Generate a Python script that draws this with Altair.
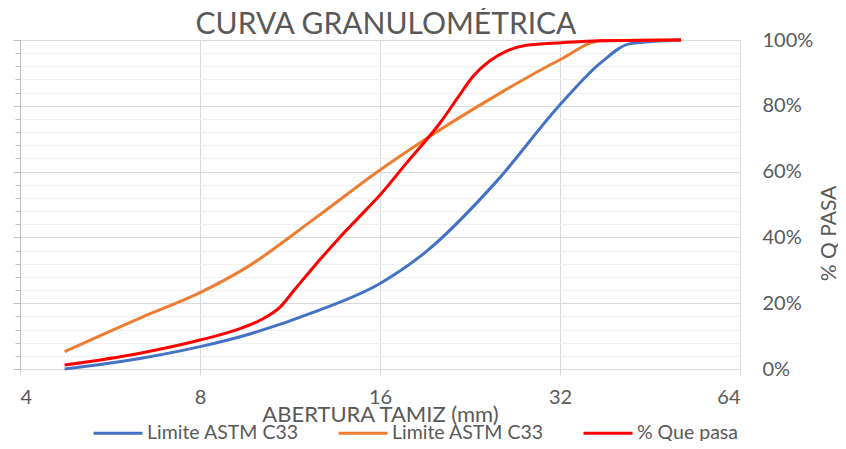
import altair as alt
import pandas as pd

# ---- data ----
x_ticks = [4, 8, 16, 32, 64]
y_major = [0, 20, 40, 60, 80, 100]
y_all = [0, 4, 8, 12, 16, 20, 24, 28, 32, 36, 40, 44, 48, 52, 56, 60, 64, 68, 72, 76, 80, 84, 88, 92, 96, 100]

series_keys = ["inf", "sup", "pasa"]
series_labels = ["Limite ASTM C33", "Limite ASTM C33", "% Que pasa"]
series_colors = ["#4472C4", "#ED7D31", "#FF0000"]

x_inf = [4.75, 6.35, 8, 9.5, 12.5, 16, 19, 25, 32, 37.5, 42, 51]
y_inf = [0, 3.2, 6.8, 10.2, 17.5, 26, 35.3, 56.8, 80.3, 93.2, 98.9, 100]

x_sup = [4.75, 6.35, 8, 9.5, 12.5, 16, 19, 25, 32, 37.5, 51]
y_sup = [5.3, 15.5, 23.2, 30.5, 46, 60.5, 69.7, 83.1, 94, 99.8, 100]

x_pasa = [4.75, 6.35, 8, 9.2, 10.1, 10.9, 11.5, 12.4, 13.7, 15.2, 16, 17.7, 20.2, 21.5, 22.9, 24.4, 26.1, 28.1, 32.2, 37.3, 51]
y_pasa = [1.2, 4.8, 8.8, 11.9, 14.9, 18.9, 24, 31.1, 40, 48.6, 52.9, 62.5, 75, 82, 89, 93.6, 96.7, 98.4, 99.2, 99.8, 100]

rows = []
for key, xs, ys in zip(series_keys, [x_inf, x_sup, x_pasa], [y_inf, y_sup, y_pasa]):
    for i, (xv, yv) in enumerate(zip(xs, ys)):
        rows.append({"serie": key, "abertura": xv, "pasa": yv, "i": i})
df = pd.DataFrame(rows)

FONT = "Lato"
GREY = "#595959"

label_expr = "datum.value == 'pasa' ? '% Que pasa' : 'Limite ASTM C33'"

xscale = alt.Scale(type="log", base=2, domain=[4, 64], nice=False)
yscale = alt.Scale(domain=[0, 100], nice=False, zero=True)

x_axis = alt.Axis(
    values=x_ticks,
    format="d",
    title="ABERTURA TAMIZ (mm)",
    grid=True,
    gridColor="#D9D9D9",
    domainColor="#D9D9D9",
    tickColor="#D9D9D9",
    tickSize=6,
    labelPadding=12,
    labelFont=FONT,
    labelFontSize=20,
    labelColor=GREY,
    titleFont=FONT,
    titleFontSize=22,
    titleFontWeight="normal",
    titleColor=GREY,
    titleBaseline="alphabetic",
    titleY=52,
)

x_enc = alt.X("abertura:Q", scale=xscale, axis=x_axis)

lines = alt.Chart(df).mark_line(strokeWidth=3, interpolate="monotone").encode(
    x=x_enc,
    y=alt.Y(
        "pasa:Q",
        scale=yscale,
        axis=alt.Axis(
            orient="left",
            values=y_all,
            labels=False,
            title=None,
            domainColor="#BFBFBF",
            tickColor="#BFBFBF",
            tickSize={"condition": {"test": "datum.value % 20 === 0", "value": 7}, "value": 5},
            grid=True,
            gridColor={"condition": {"test": "datum.value % 20 === 0", "value": "#D9D9D9"}, "value": "#F0F0F0"},
        ),
    ),
    color=alt.Color(
        "serie:N",
        scale=alt.Scale(domain=series_keys, range=series_colors),
        legend=alt.Legend(
            orient="none",
            legendX=72,
            legendY=367,
            direction="horizontal",
            title=None,
            symbolType="stroke",
            symbolSize=2401,
            symbolStrokeWidth=3,
            labelFont=FONT,
            labelFontSize=19.5,
            labelColor=GREY,
            labelOffset=3,
            columnPadding=33,
            padding=0,
            labelExpr=label_expr,
        ),
    ),
    order="i:Q",
)

right_axis = alt.Chart(df).mark_point(opacity=0).encode(
    x=x_enc,
    y=alt.Y(
        "pasa:Q",
        scale=yscale,
        axis=alt.Axis(
            orient="right",
            values=y_major,
            labelExpr="datum.value + '%'",
            grid=False,
            ticks=False,
            tickSize=0,
            domainColor="#D9D9D9",
            labelPadding=22,
            labelFont=FONT,
            labelFontSize=20,
            labelColor=GREY,
            title="% Q PASA",
            titleFont=FONT,
            titleFontSize=21,
            titleFontWeight="normal",
            titleColor=GREY,
            titleAngle=270,
            titleAlign="center",
            titleBaseline="alphabetic",
            titleX=95,
            titleY=193,
        ),
    ),
)

chart = (
    alt.layer(lines, right_axis)
    .resolve_axis(y="independent")
    .properties(
        width=720,
        height=329,
        autosize=alt.AutoSizeParams(type="none"),
        padding={"left": 12, "top": 32, "right": 98, "bottom": 72},
        title=alt.TitleParams(
            "CURVA GRANULOMÉTRICA",
            font=FONT,
            fontSize=30,
            fontWeight="normal",
            color=GREY,
            anchor="middle",
            offset=0,
            dx=6,
            dy=10,
        ),
    )
    .configure_view(stroke=None)
    .configure(background="white")
)

chart.save("out.html", embed_options={"renderer": "svg", "actions": False})
